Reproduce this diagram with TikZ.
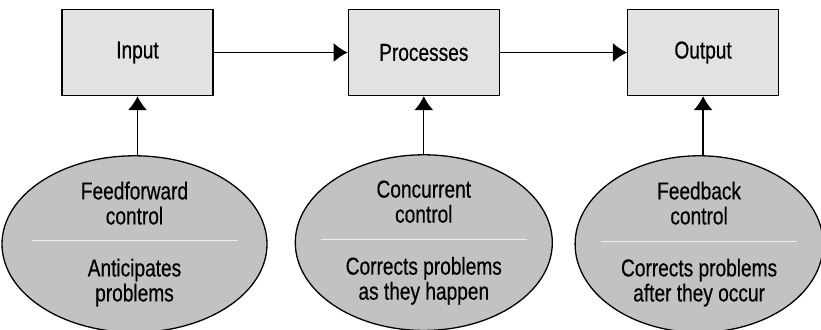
\documentclass[tikz,border=0pt]{standalone}
\usepackage{fontspec}
\setmainfont{Liberation Sans}[FakeStretch=0.78, FakeBold=0.4]
\usetikzlibrary{shapes.geometric, arrows.meta, positioning}
\definecolor{bgray}{HTML}{E2E2E2}
\definecolor{egray}{HTML}{C2C2C2}
\definecolor{lgray}{HTML}{EEEEEE}
\tikzstyle{stage} = [rectangle, minimum width=151pt, minimum height=86pt, draw, line width=1.3pt, fill=bgray, font=\fontsize{24.5}{25}\selectfont]
\tikzstyle{control} = [ellipse, minimum height=170pt, draw, line width=1.3pt, fill=egray, inner sep=0pt, font=\fontsize{24.5}{25}\selectfont]
\tikzstyle{flow} = [line width=1.3pt, -{Latex[length=14pt,width=19pt]}]
\tikzstyle{divider} = [line width=1pt, draw=lgray]

\begin{document}
\begin{tikzpicture}[align=center]
  \useasboundingbox (0,0) rectangle (821pt,-329pt);
  \node (input) [stage] at (137.5pt,-52.5pt) {Input};
  \node (proc) [stage, right=134pt of input] {Processes};
  \node (output) [stage, right=127pt of proc] {Output};
  \node (ff) [control, minimum width=265pt, below=59pt of input, xshift=-3pt] {Feedforward\\control\\[27pt]Anticipates\\problems};
  \node (cc) [control, minimum width=257pt, below=58pt of proc] {Concurrent\\control\\[27pt]Corrects problems\\as they happen};
  \node (fb) [control, minimum width=248pt, below=59pt of output, xshift=-4pt] {Feedback\\control\\[27pt]Corrects problems\\after they occur};
  \draw [divider] ([shift={(-103pt,4pt)}]ff.center) -- ([shift={(103pt,4pt)}]ff.center);
  \draw [divider] ([shift={(-103pt,3pt)}]cc.center) -- ([shift={(103pt,3pt)}]cc.center);
  \draw [divider] ([shift={(-98pt,3pt)}]fb.center) -- ([shift={(98pt,3pt)}]fb.center);
  \draw [flow] (input) -- (proc);
  \draw [flow] (proc) -- (output);
  \draw [flow] (ff.north -| input) -- (input);
  \draw [flow] (cc) -- (proc);
  \draw [flow] (fb.north -| output) -- (output);
\end{tikzpicture}
\end{document}
